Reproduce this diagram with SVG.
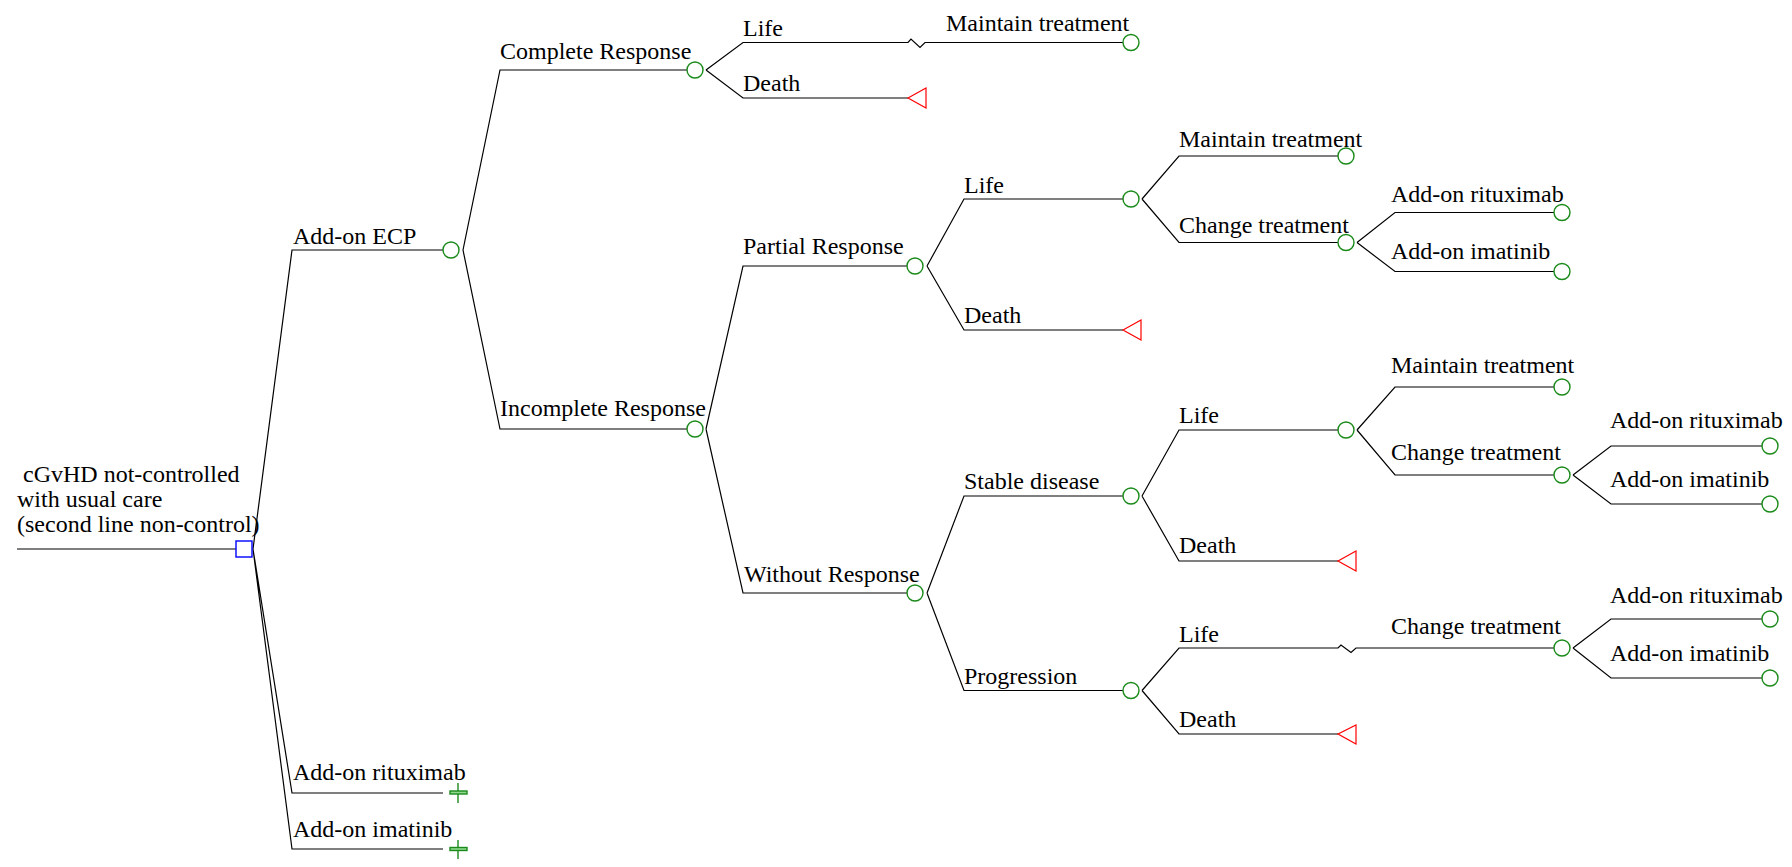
<svg xmlns="http://www.w3.org/2000/svg" width="1792" height="867" viewBox="0 0 1792 867">
<style>
.e{fill:none;stroke:#000;stroke-width:1.2}
.c{fill:#fff;stroke:#1a8a1a;stroke-width:1.4}
.t{fill:#fff;stroke:#ff0000;stroke-width:1.2}
.d{fill:#fff;stroke:#0000ff;stroke-width:1.4}
.p{stroke:#1a8a1a;stroke-width:1.4;fill:#8fd88f}
</style>
<rect width="1792" height="867" fill="#fff"/>
<g id="connectors">
<path class="e" d="M17,549H236"/>
<path class="e" d="M253,549L292,250H443M253,549L292,793H443M253,549L292,849H443"/>
<path class="e" d="M463,250L500,70H687M463,250L500,429H687"/>
<path class="e" d="M706,70L743,42.5H908L911,39L920,47.5L925,42.5H1123M706,70L743,98H908"/>
<path class="e" d="M706,429L743,266H907M706,429L743,593H907"/>
<path class="e" d="M927,266L964,199H1123M927,266L964,330H1123"/>
<path class="e" d="M1142,199L1179,156H1338M1142,199L1179,242.5H1338"/>
<path class="e" d="M1357,242.5L1395,212.5H1554M1357,242.5L1395,271.5H1554"/>
<path class="e" d="M927,593L964,496H1123M927,593L964,690.5H1123"/>
<path class="e" d="M1142,496L1179,430H1338M1142,496L1179,561H1338"/>
<path class="e" d="M1357,430L1395,387H1554M1357,430L1395,475H1554"/>
<path class="e" d="M1573,475L1611,446H1762M1573,475L1611,504H1762"/>
<path class="e" d="M1142,690.5L1179,648H1338L1341,645L1351,652.5L1356,648H1554M1142,690.5L1179,734H1338"/>
<path class="e" d="M1573,648L1611,619H1762M1573,648L1611,678H1762"/>
</g>
<g font-family="'Liberation Serif', 'Times New Roman', 'DejaVu Serif', serif" font-size="24" fill="#000">
<g id="root">
<rect class="d" x="236" y="541" width="16" height="16"/>
<text x="23" y="482">cGvHD not-controlled</text>
<text x="17" y="507">with usual care</text>
<text x="17" y="532">(second line non-control)</text>
</g>
<g id="ecp"><circle class="c" cx="451" cy="250" r="8"/><text x="293" y="244">Add-on ECP</text></g>
<g id="rituximab1"><path d="M458,783V803" stroke="#1a8a1a" stroke-width="1.4"/><rect class="p" x="450" y="791" width="17" height="3"/><text x="293" y="780">Add-on rituximab</text></g>
<g id="imatinib1"><path d="M458,840V859" stroke="#1a8a1a" stroke-width="1.4"/><rect class="p" x="450" y="847.5" width="17" height="3"/><text x="293" y="837">Add-on imatinib</text></g>
<g id="complete"><circle class="c" cx="695" cy="70" r="8"/><text x="500" y="59">Complete Response</text></g>
<g id="cr-life"><text x="743" y="36">Life</text></g>
<g id="cr-maintain"><circle class="c" cx="1131" cy="42.5" r="8"/><text x="946" y="31">Maintain treatment</text></g>
<g id="cr-death"><polygon class="t" points="908,98 926,88 926,108"/><text x="743" y="91">Death</text></g>
<g id="incomplete"><circle class="c" cx="695" cy="429" r="8"/><text x="500" y="416">Incomplete Response</text></g>
<g id="partial"><circle class="c" cx="915" cy="266" r="8"/><text x="743" y="254">Partial Response</text></g>
<g id="pr-life"><circle class="c" cx="1131" cy="199" r="8"/><text x="964" y="193">Life</text></g>
<g id="pr-death"><polygon class="t" points="1123,330 1141,320 1141,340"/><text x="964" y="323">Death</text></g>
<g id="pr-maintain"><circle class="c" cx="1346" cy="156" r="8"/><text x="1179" y="147">Maintain treatment</text></g>
<g id="pr-change"><circle class="c" cx="1346" cy="242.5" r="8"/><text x="1179" y="233">Change treatment</text></g>
<g id="pr-rituximab"><circle class="c" cx="1562" cy="212.5" r="8"/><text x="1391" y="202">Add-on rituximab</text></g>
<g id="pr-imatinib"><circle class="c" cx="1562" cy="271.5" r="8"/><text x="1391" y="259">Add-on imatinib</text></g>
<g id="without"><circle class="c" cx="915" cy="593" r="8"/><text x="744" y="582">Without Response</text></g>
<g id="stable"><circle class="c" cx="1131" cy="496" r="8"/><text x="964" y="489">Stable disease</text></g>
<g id="sd-life"><circle class="c" cx="1346" cy="430" r="8"/><text x="1179" y="423">Life</text></g>
<g id="sd-death"><polygon class="t" points="1338,561 1356,551 1356,571"/><text x="1179" y="553">Death</text></g>
<g id="sd-maintain"><circle class="c" cx="1562" cy="387" r="8"/><text x="1391" y="373">Maintain treatment</text></g>
<g id="sd-change"><circle class="c" cx="1562" cy="475" r="8"/><text x="1391" y="460">Change treatment</text></g>
<g id="sd-rituximab"><circle class="c" cx="1770" cy="446" r="8"/><text x="1610" y="428">Add-on rituximab</text></g>
<g id="sd-imatinib"><circle class="c" cx="1770" cy="504" r="8"/><text x="1610" y="487">Add-on imatinib</text></g>
<g id="progression"><circle class="c" cx="1131" cy="690.5" r="8"/><text x="964" y="684">Progression</text></g>
<g id="pg-life"><text x="1179" y="642">Life</text></g>
<g id="pg-change"><circle class="c" cx="1562" cy="648" r="8"/><text x="1391" y="634">Change treatment</text></g>
<g id="pg-death"><polygon class="t" points="1338,734 1356,725 1356,744"/><text x="1179" y="727">Death</text></g>
<g id="pg-rituximab"><circle class="c" cx="1770" cy="619" r="8"/><text x="1610" y="603">Add-on rituximab</text></g>
<g id="pg-imatinib"><circle class="c" cx="1770" cy="678" r="8"/><text x="1610" y="661">Add-on imatinib</text></g>
</g>
</svg>
